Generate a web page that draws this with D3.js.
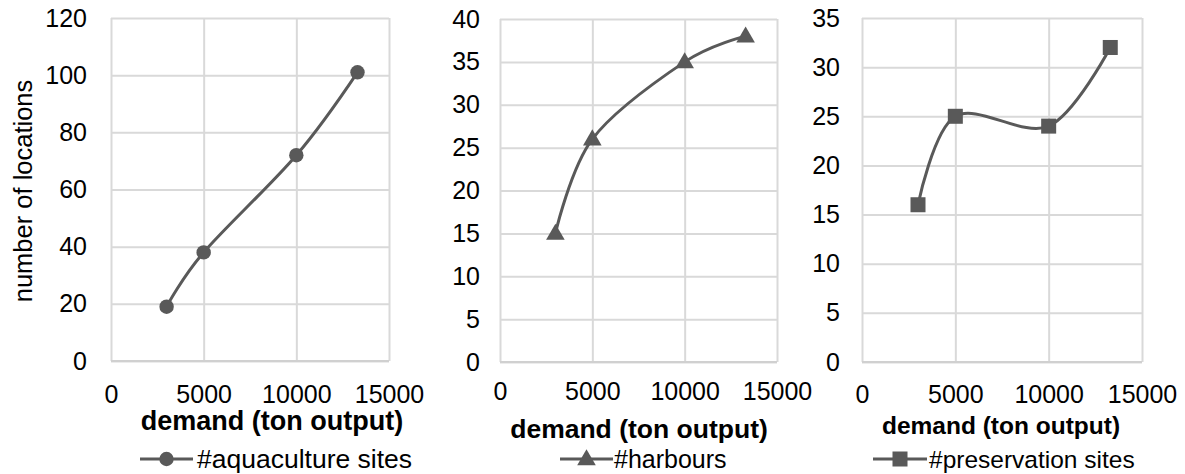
<!DOCTYPE html>
<html>
<head>
<meta charset="utf-8">
<script src="https://cdn.jsdelivr.net/npm/d3@7"></script>
<style>
  html, body { margin: 0; padding: 0; background: #ffffff; }
  svg { display: block; }
  text { font-family: "Liberation Sans", Arial, sans-serif; fill: #000; }
</style>
</head>
<body>
<svg id="chart" width="1185" height="474"></svg>
<script>
// ---- data ----
const demand = [3000, 5000, 10000, 13300];
const aquacultureSites = [19, 38, 72, 101];
const harbours = [15, 26, 35, 38];
const preservationSites = [16, 25, 24, 32];
const xTicks = [0, 5000, 10000, 15000];
const yTicksAquaculture = [0, 20, 40, 60, 80, 100, 120];
const yTicksHarbours = [0, 5, 10, 15, 20, 25, 30, 35, 40];
const yTicksPreservation = [0, 5, 10, 15, 20, 25, 30, 35];
const seriesNames = ["#aquaculture sites", "#harbours", "#preservation sites"];
const xTitle = "demand (ton output)";
const yTitle = "number of locations";

// ---- layout ----
const panels = [
  { values: aquacultureSites, yTicks: yTicksAquaculture, name: seriesNames[0], marker: "circle",
    x0: 111, x1: 389, y0: 18, y1: 361, yPad: 24, xPad: 24.3,
    titleX: 272, titleY: 430, titleSize: 27, legLine: [140, 193], legY: 459, legTextX: 197, legSize: 26.5 },
  { values: harbours, yTicks: yTicksHarbours, name: seriesNames[1], marker: "triangle",
    x0: 500, x1: 777, y0: 19, y1: 362, yPad: 20, xPad: 20.7,
    titleX: 639, titleY: 438, titleSize: 26.5, legLine: [560, 613], legY: 459, legTextX: 614, legSize: 25 },
  { values: preservationSites, yTicks: yTicksPreservation, name: seriesNames[2], marker: "square",
    x0: 862, x1: 1142, y0: 18, y1: 362, yPad: 22, xPad: 23.7,
    titleX: 1001, titleY: 434, titleSize: 24.5, legLine: [873, 927], legY: 459, legTextX: 929, legSize: 24.5 }
];

const svg = d3.select("#chart");
const lineColor = "#595959";
const gridColor = "#d9d9d9";
const tickFont = 25;

function drawMarker(g, type, cx, cy) {
  if (type === "circle") {
    g.append("circle").attr("cx", cx).attr("cy", cy).attr("r", 7.2).attr("fill", lineColor);
  } else if (type === "triangle") {
    const s = d3.symbol().type(d3.symbolTriangle).size(150);
    g.append("path").attr("d", s()).attr("transform", `translate(${cx},${cy + 1})`).attr("fill", lineColor);
  } else {
    g.append("rect").attr("x", cx - 7.5).attr("y", cy - 7.5).attr("width", 15).attr("height", 15).attr("fill", lineColor);
  }
}

panels.forEach(p => {
  const x = d3.scaleLinear().domain([0, 15000]).range([p.x0, p.x1]);
  const yMax = d3.max(p.yTicks);
  const y = d3.scaleLinear().domain([0, yMax]).range([p.y1, p.y0]);

  // y axis with gridlines
  const yAxis = svg.append("g").attr("transform", `translate(${p.x0},0)`)
    .call(d3.axisLeft(y).tickValues(p.yTicks).tickSize(-(p.x1 - p.x0)).tickPadding(p.yPad).tickFormat(d3.format("d")));
  yAxis.select(".domain").remove();
  yAxis.selectAll("line").attr("stroke", gridColor).attr("stroke-width", 2);
  yAxis.selectAll("text").attr("font-size", tickFont).attr("fill", "#000")
    .attr("font-family", "Liberation Sans, Arial, sans-serif");

  // x axis with gridlines
  const xAxis = svg.append("g").attr("transform", `translate(0,${p.y1})`)
    .call(d3.axisBottom(x).tickValues(xTicks).tickSize(-(p.y1 - p.y0)).tickPadding(p.xPad).tickFormat(d3.format("d")));
  xAxis.select(".domain").remove();
  xAxis.selectAll("line").attr("stroke", gridColor).attr("stroke-width", 2);
  xAxis.selectAll("text").attr("font-size", tickFont).attr("fill", "#000")
    .attr("font-family", "Liberation Sans, Arial, sans-serif");

  // bottom axis line
  svg.append("line").attr("x1", p.x0).attr("x2", p.x1).attr("y1", p.y1).attr("y2", p.y1)
    .attr("stroke", "#d0d0d0").attr("stroke-width", 2);

  // smoothed line
  const pts = demand.map((d, i) => [x(d), y(p.values[i])]);
  svg.append("path")
    .attr("d", d3.line().curve(d3.curveCardinal.tension(0))(pts))
    .attr("fill", "none").attr("stroke", lineColor).attr("stroke-width", 3);

  const mg = svg.append("g");
  pts.forEach(pt => drawMarker(mg, p.marker, pt[0], pt[1]));

  // x title
  svg.append("text").attr("x", p.titleX).attr("y", p.titleY).attr("text-anchor", "middle")
    .attr("font-weight", "bold").attr("font-size", p.titleSize).text(xTitle);

  // legend
  svg.append("line").attr("x1", p.legLine[0]).attr("x2", p.legLine[1]).attr("y1", p.legY).attr("y2", p.legY)
    .attr("stroke", lineColor).attr("stroke-width", 3);
  drawMarker(svg.append("g"), p.marker, (p.legLine[0] + p.legLine[1]) / 2, p.legY);
  svg.append("text").attr("x", p.legTextX).attr("y", p.legY).attr("dy", "0.35em")
    .attr("font-size", p.legSize).text(p.name);
});

// y title
svg.append("text").attr("transform", "translate(23,191) rotate(-90)")
  .attr("text-anchor", "middle").attr("dy", "0.35em").attr("font-size", 25.5).text(yTitle);
</script>
</body>
</html>
